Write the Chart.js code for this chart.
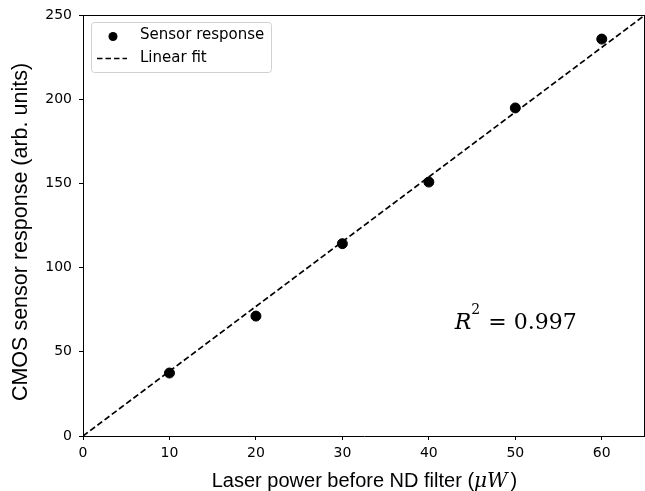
<!DOCTYPE html>
<html><head><meta charset="utf-8">
<script src="https://cdn.jsdelivr.net/npm/chart.js@4"></script>
<style>html,body{margin:0;padding:0;background:#fff}#c{display:block}</style>
</head><body>
<canvas id="c" width="645" height="491"></canvas>
<script>
const powerUW = [10, 20, 30, 40, 50, 60];
const sensorResponse = [37.4, 71.2, 114.2, 150.8, 194.8, 235.7];
const fitX = [0, 65];
const fitY = [0, 250];
const xTicks = [0, 10, 20, 30, 40, 50, 60];
const yTicks = [0, 50, 100, 150, 200, 250];
const r2Text = '0.997';
const yTitle = 'CMOS sensor response (arb. units)';
const xTitleParts = ['Laser power before ND filter (', 'μW', ')'];

const tickFont = {family: 'DejaVu Sans', size: 14};

const overlay = {
  id: 'overlay',
  afterDraw(chart) {
    const ctx = chart.ctx, a = chart.chartArea;
    const xs = chart.scales.x, ys = chart.scales.y;
    ctx.save();
    // top/right spines
    ctx.strokeStyle = '#000'; ctx.lineWidth = 1;
    ctx.beginPath();
    ctx.moveTo(a.left, a.top + 0.5); ctx.lineTo(a.right, a.top + 0.5);
    ctx.moveTo(a.right - 0.5, a.top); ctx.lineTo(a.right - 0.5, a.bottom);
    ctx.stroke();
    // legend
    const lx = 91, ly = 22, lw = 180, lh = 50;
    ctx.fillStyle = 'rgba(255,255,255,0.8)';
    ctx.strokeStyle = '#d0d0d0';
    ctx.beginPath();
    ctx.roundRect(lx + 0.5, ly + 0.5, lw, lh, 3);
    ctx.fill(); ctx.stroke();
    ctx.fillStyle = '#000';
    ctx.beginPath(); ctx.arc(113, 36.5, 4.5, 0, Math.PI * 2); ctx.fill();
    ctx.strokeStyle = '#000'; ctx.lineWidth = 1.6; ctx.setLineDash([5.5, 3]);
    ctx.beginPath(); ctx.moveTo(97, 58.5); ctx.lineTo(127, 58.5); ctx.stroke();
    ctx.setLineDash([]);
    ctx.font = '15px "DejaVu Sans"'; ctx.textBaseline = 'middle'; ctx.textAlign = 'left';
    ctx.fillText(chart.data.datasets[0].label, 140, 35.5);
    ctx.fillText(chart.data.datasets[1].label, 140, 58.5);
    // R^2 annotation
    const tx = xs.getPixelForValue(43.0), ty = ys.getPixelForValue(63.5);
    ctx.textBaseline = 'alphabetic';
    ctx.font = 'italic 22px "DejaVu Serif"';
    ctx.fillText('R', tx, ty);
    let w = ctx.measureText('R').width;
    ctx.font = '14px "DejaVu Serif"';
    ctx.fillText('2', tx + w, ty - 15);
    const w2 = ctx.measureText('2').width;
    ctx.font = '22px "DejaVu Serif"';
    ctx.fillText(' = ' + r2Text, tx + w + w2 + 1, ty);
    // x axis title (mixed fonts)
    const [p1, p2, p3] = xTitleParts;
    const sf = '20px "Liberation Sans"', mf = 'italic 20px "DejaVu Serif"';
    ctx.font = sf;
    const w1 = ctx.measureText(p1).width;
    const w3 = ctx.measureText(p3).width;
    ctx.font = mf;
    const wm = ctx.measureText(p2).width;
    const total = w1 + wm + w3 + 3;
    let sx = 364.5 - total / 2;
    const by = 487;
    ctx.font = sf; ctx.fillText(p1, sx, by); sx += w1;
    ctx.font = mf; ctx.fillText(p2, sx, by); sx += wm + 3;
    ctx.font = sf; ctx.fillText(p3, sx, by);
    // y axis title
    ctx.translate(21, 232);
    ctx.rotate(-Math.PI / 2);
    ctx.font = '21.5px "Liberation Sans"';
    ctx.textAlign = 'center'; ctx.textBaseline = 'middle';
    ctx.fillText(yTitle, 0, 0);
    ctx.restore();
  }
};

new Chart(document.getElementById('c'), {
  type: 'scatter',
  data: {
    datasets: [
      {
        label: 'Sensor response',
        data: powerUW.map((x, i) => ({x, y: sensorResponse[i]})),
        backgroundColor: '#000', borderColor: '#000',
        pointRadius: 5, pointHoverRadius: 5, order: 0
      },
      {
        label: 'Linear fit',
        data: fitX.map((x, i) => ({x, y: fitY[i]})),
        showLine: true, borderColor: '#000', borderWidth: 1.7,
        borderDash: [6, 3], pointRadius: 0, fill: false, order: 1
      }
    ]
  },
  options: {
    responsive: false, animation: false,
    layout: {autoPadding: false, padding: {top: 15, right: 0, left: 0, bottom: 0}},
    plugins: {legend: {display: false}, tooltip: {enabled: false}},
    scales: {
      x: {
        type: 'linear', min: 0, max: 65,
        afterBuildTicks: s => { s.ticks = xTicks.map(v => ({value: v})); },
        afterFit: s => { s.height = 55; s.paddingLeft = 0; s.paddingRight = 0; },
        ticks: {color: '#000', font: tickFont, padding: 5, maxRotation: 0},
        grid: {display: true, drawOnChartArea: false, drawTicks: true, tickLength: 4, color: '#000'},
        border: {color: '#000', width: 1}
      },
      y: {
        type: 'linear', min: 0, max: 250,
        afterBuildTicks: s => { s.ticks = yTicks.map(v => ({value: v})); },
        afterFit: s => { s.width = 83; s.paddingTop = 0; s.paddingBottom = 0; },
        ticks: {color: '#000', font: tickFont, padding: 7},
        grid: {display: true, drawOnChartArea: false, drawTicks: true, tickLength: 4, color: '#000'},
        border: {color: '#000', width: 1}
      }
    }
  },
  plugins: [overlay]
});
</script>
</body></html>
